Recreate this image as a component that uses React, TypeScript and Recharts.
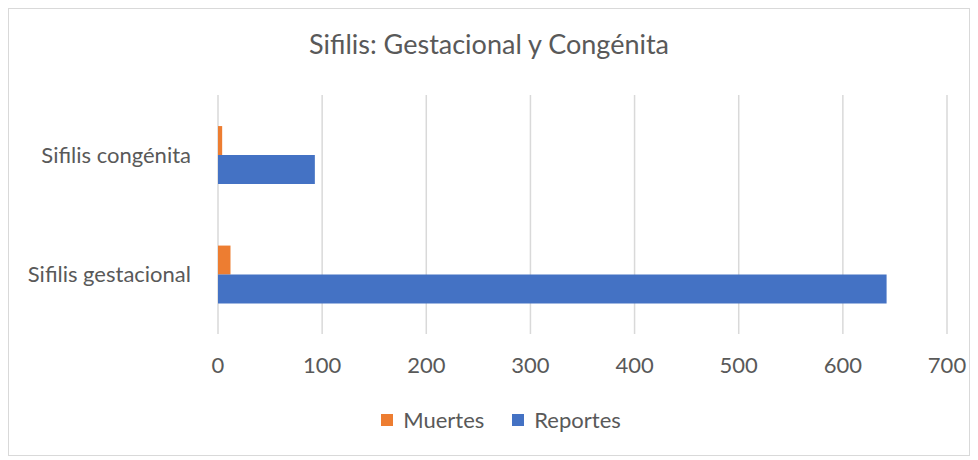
import { Bar, BarChart, CartesianGrid, XAxis, YAxis } from "recharts";

const categories = ["Sifilis congénita", "Sifilis gestacional"];
const muertes = [4, 12];
const reportes = [93, 642];
const xTicks = [0, 100, 200, 300, 400, 500, 600, 700];

const ORANGE = "#ED7D31";
const BLUE = "#4472C4";
const TEXT = "#595959";
const GRID = "#d9d9d9";
const FONT = "Lato, 'Open Sans', sans-serif";

const data = categories.map((name, i) => ({
  name,
  Muertes: muertes[i],
  Reportes: reportes[i],
}));

function LegendItem({ color, label }: { color: string; label: string }) {
  return (
    <div style={{ display: "flex", alignItems: "center", gap: 10 }}>
      <div style={{ width: 12, height: 12, background: color }} />
      <span>{label}</span>
    </div>
  );
}

export default function App() {
  return (
    <div
      style={{
        position: "relative",
        width: 960,
        height: 446,
        border: `1px solid ${GRID}`,
        fontFamily: FONT,
        color: TEXT,
        background: "#fff",
      }}
    >
      <div
        style={{
          position: "absolute",
          top: 18,
          left: 0,
          width: "100%",
          textAlign: "center",
          fontSize: 27,
        }}
      >
        Sifilis: Gestacional y Congénita
      </div>
      <BarChart
        width={960}
        height={446}
        data={data}
        layout="vertical"
        margin={{ top: 86, right: 22, bottom: 0, left: 0 }}
        barCategoryGap="26%"
        barGap={0}
      >
        <CartesianGrid stroke={GRID} strokeWidth={1.5} horizontal={false} />
        <XAxis
          type="number"
          domain={[0, 700]}
          ticks={xTicks}
          axisLine={false}
          tickLine={false}
          tickSize={0}
          tickMargin={23}
          height={121}
          tick={{ fill: TEXT, fontSize: 22, fontFamily: FONT }}
        />
        <YAxis
          type="category"
          dataKey="name"
          width={209}
          axisLine={false}
          tickLine={false}
          tickSize={0}
          tickMargin={27}
          tick={{ fill: TEXT, fontSize: 22, fontFamily: FONT }}
        />
        <Bar dataKey="Muertes" fill={ORANGE} isAnimationActive={false} />
        <Bar dataKey="Reportes" fill={BLUE} isAnimationActive={false} />
      </BarChart>
      <div
        style={{
          position: "absolute",
          top: 397,
          left: 12,
          width: "100%",
          display: "flex",
          justifyContent: "center",
          gap: 28,
          fontSize: 22,
        }}
      >
        <LegendItem color={ORANGE} label="Muertes" />
        <LegendItem color={BLUE} label="Reportes" />
      </div>
    </div>
  );
}
